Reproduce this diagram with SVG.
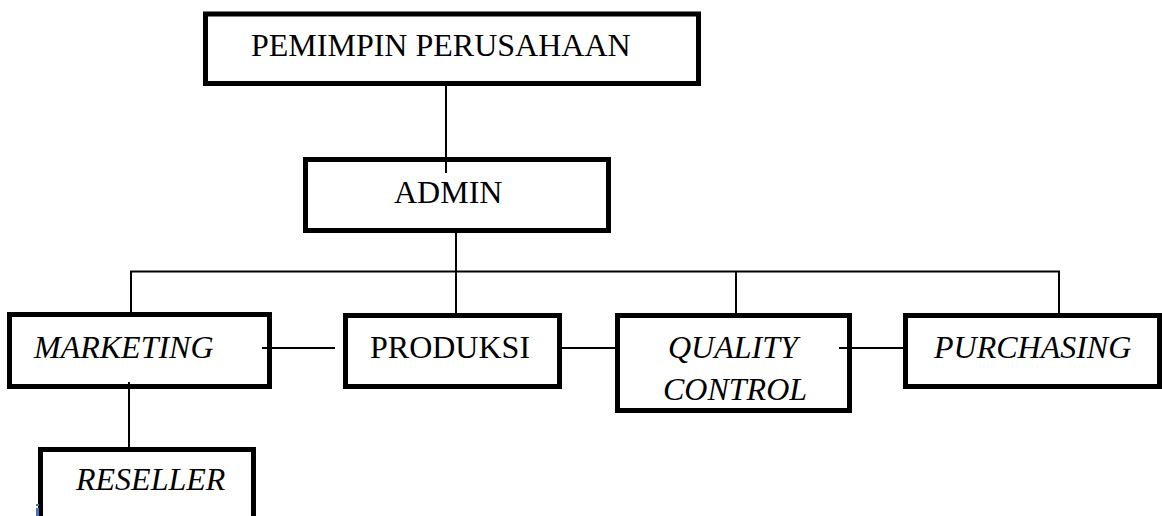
<svg xmlns="http://www.w3.org/2000/svg" width="1162" height="516" viewBox="0 0 1162 516">
<style>
.box{fill:#fff;stroke:#000;stroke-width:5}
.t{font-family:"Liberation Serif","Times New Roman",serif;font-size:32px;fill:#000}
.i{font-style:italic}
.c{stroke:#000;stroke-width:2;fill:none}
</style>
<rect width="1162" height="516" fill="#fff"/>
<g id="connectors">
<line class="c" x1="446" y1="86" x2="446" y2="173"/>
<line class="c" x1="456" y1="233" x2="456" y2="313"/>
<line class="c" x1="130" y1="271.5" x2="1060" y2="271.5"/>
<line class="c" x1="131" y1="271" x2="131" y2="313"/>
<line class="c" x1="736" y1="271" x2="736" y2="313"/>
<line class="c" x1="1059" y1="271" x2="1059" y2="313"/>
<line class="c" x1="262" y1="348" x2="335" y2="348"/>
<line class="c" x1="562" y1="348" x2="615" y2="348"/>
<line class="c" x1="839" y1="348" x2="903" y2="348"/>
<line class="c" x1="129" y1="382" x2="129" y2="447"/>
</g>
<g id="pemimpin">
<rect class="box" x="205.5" y="14" width="493" height="69.5"/>
<text class="t" x="251" y="56">PEMIMPIN PERUSAHAAN</text>
</g>
<g id="admin">
<rect class="box" x="305.5" y="159.5" width="303" height="71"/>
<text class="t" x="394" y="203">ADMIN</text>
</g>
<line class="c" x1="446" y1="157" x2="446" y2="173"/>
<g id="marketing">
<rect class="box" x="9.5" y="314.5" width="260" height="72"/>
<text class="t i" x="34" y="358">MARKETING</text>
</g>
<line class="c" x1="262" y1="348" x2="272" y2="348"/>
<line class="c" x1="129" y1="382" x2="129" y2="389"/>
<g id="produksi">
<rect class="box" x="345.5" y="315.5" width="214" height="71"/>
<text class="t" x="370" y="358">PRODUKSI</text>
</g>
<g id="quality-control">
<rect class="box" x="617.5" y="315.5" width="232" height="95"/>
<text class="t i" x="668" y="358">QUALITY</text>
<text class="t i" x="663" y="400">CONTROL</text>
</g>
<line class="c" x1="839" y1="348" x2="852" y2="348"/>
<g id="purchasing">
<rect class="box" x="905.5" y="315.5" width="254" height="71"/>
<text class="t i" x="934" y="358">PURCHASING</text>
</g>
<g id="reseller">
<rect class="box" x="40.5" y="449.5" width="213" height="80"/>
<text class="t i" x="76" y="490">RESELLER</text>
</g>
<rect x="36" y="508" width="3" height="8" fill="#4a72b8"/>
<rect x="36" y="504" width="3" height="2" fill="#4a72b8"/>
</svg>
